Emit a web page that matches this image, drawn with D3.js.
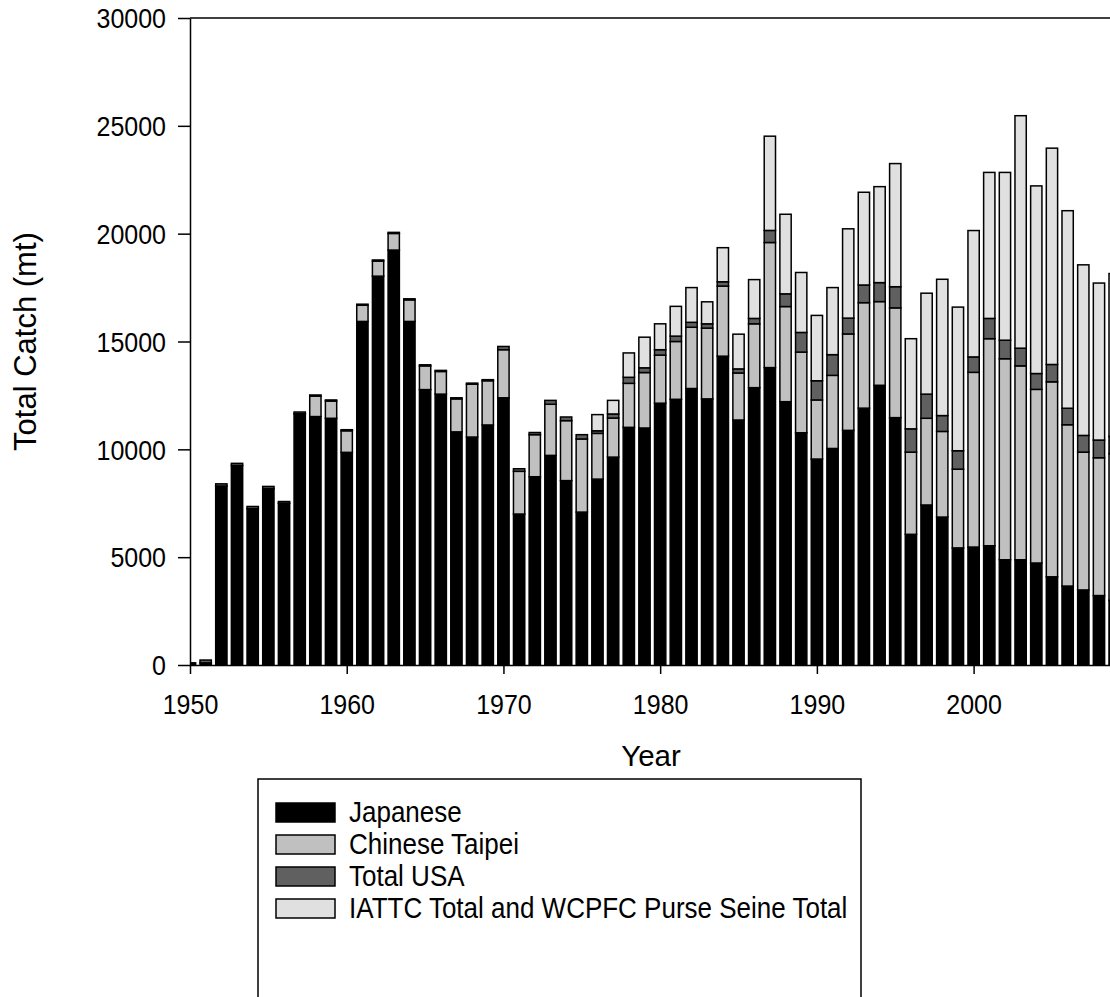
<!DOCTYPE html>
<html>
<head>
<meta charset="utf-8">
<script src="https://cdn.jsdelivr.net/npm/d3@7"></script>
<style>
  html, body { margin: 0; padding: 0; background: #fff; }
  svg { display: block; font-family: "Liberation Sans", Arial, sans-serif; }
</style>
</head>
<body>
<svg id="chart" width="1110" height="997"></svg>
<script>
// Annual catch (mt) by fishery, 1950-2009
const years = d3.range(1950, 2010);

const japanese = [
  100, 100, 8300, 9250, 7250, 8180, 7500, 11650, 11520, 11440,
  9860, 15930, 18030, 19240, 15930, 12770, 12560, 10810, 10570, 11130,
  12390, 7000, 8730, 9720, 8550, 7090, 8620, 9640, 11020, 10990,
  12140, 12320, 12820, 12340, 14320, 11360, 12860, 13790, 12210, 10770,
  9550, 10040, 10880, 11910, 12970, 11470, 6060, 7420, 6860, 5430,
  5470, 5530, 4880, 4880, 4730, 4090, 3660, 3480, 3220, 3000
];

const chineseTaipei = [
  0, 0, 0, 0, 0, 0, 0, 0, 950, 800,
  1000, 750, 700, 770, 1000, 1100, 1050, 1530, 2450, 2050,
  2230, 1980, 1950, 2370, 2780, 3390, 2120, 1810, 2040, 2570,
  2230, 2680, 2840, 3280, 3250, 2180, 2960, 5800, 4410, 3740,
  2740, 3390, 4470, 4890, 3880, 5090, 3810, 4020, 3970, 3650,
  8100, 9600, 9320, 8990, 8050, 9040, 7480, 6390, 6390, 6800
];

const totalUSA = [
  0, 130, 100, 100, 100, 100, 80, 80, 50, 50,
  50, 50, 50, 50, 50, 50, 50, 50, 50, 50,
  150, 120, 100, 180, 170, 200, 120, 190, 280, 220,
  250, 250, 230, 200, 200, 190, 250, 560, 590, 910,
  890, 960, 735, 820, 880, 980, 1080, 1120, 735, 855,
  715, 940, 860, 820, 735, 805, 765, 775, 820, 800
];

const iattcWcpfc = [
  0, 0, 0, 0, 0, 0, 0, 0, 0, 0,
  0, 0, 0, 0, 0, 0, 0, 0, 0, 0,
  0, 0, 0, 0, 0, 0, 750, 630, 1130, 1420,
  1200, 1380, 1610, 1020, 1580, 1610, 1800, 4370, 3690, 2780,
  3030, 3110, 4140, 4300, 4450, 5710, 4180, 4680, 6320, 6660,
  5860, 6770, 7780, 10780, 8700, 10030, 9160, 7910, 7280, 7550
];

const seriesNames = ["Japanese", "Chinese Taipei", "Total USA", "IATTC Total and WCPFC Purse Seine Total"];
const seriesFills = ["#000000", "#c0c0c0", "#606060", "#e0e0e0"];
const yTicks = [0, 5000, 10000, 15000, 20000, 25000, 30000];
const xTicks = [1950, 1960, 1970, 1980, 1990, 2000];

const table = years.map((yr, i) => ({
  year: yr,
  "Japanese": japanese[i],
  "Chinese Taipei": chineseTaipei[i],
  "Total USA": totalUSA[i],
  "IATTC Total and WCPFC Purse Seine Total": iattcWcpfc[i]
}));

const svg = d3.select("#chart");

const plotLeft = 190, plotTop = 18, plotBottom = 665;
const x = d3.scaleLinear().domain([1950, 2010]).range([plotLeft, plotLeft + 60 * 15.672]);
const y = d3.scaleLinear().domain([0, 30000]).range([plotBottom, plotTop]);

const layers = d3.stack().keys(seriesNames)(table);

const barW = 11.3;
const plot = svg.append("g");

plot.selectAll("g.layer")
  .data(layers)
  .join("g")
  .attr("class", "layer")
  .attr("fill", (d, i) => seriesFills[i])
  .selectAll("rect")
  .data(d => d.filter(p => p[1] - p[0] > 0))
  .join("rect")
  .attr("x", d => x(d.data.year) - barW / 2)
  .attr("width", barW)
  .attr("y", d => y(d[1]))
  .attr("height", d => y(d[0]) - y(d[1]))
  .attr("stroke", "#000")
  .attr("stroke-width", 1.5);

// Hide the part of the 1950 bar that falls left of the axis
svg.append("rect")
  .attr("x", 0).attr("y", 0).attr("width", plotLeft).attr("height", plotBottom + 1)
  .attr("fill", "#fff");

// Frame: top line
svg.append("line")
  .attr("x1", plotLeft).attr("x2", x(2010))
  .attr("y1", plotTop).attr("y2", plotTop)
  .attr("stroke", "#000").attr("stroke-width", 1.5);

// Tick labels are drawn slightly tall, like the rest of the chart's lettering
const tallTick = 1.08;

// Y axis
const yAxis = svg.append("g")
  .attr("transform", `translate(${plotLeft},0)`)
  .call(d3.axisLeft(y).tickValues(yTicks).tickSize(12).tickSizeOuter(0).tickFormat(d3.format("d")));
yAxis.select(".domain").attr("stroke-width", 1.5);
yAxis.selectAll(".tick line").attr("stroke-width", 1.5);
yAxis.selectAll(".tick text")
  .attr("x", -24)
  .attr("dy", "0.36em")
  .attr("transform", `scale(1,${tallTick})`)
  .attr("font-size", 25)
  .attr("font-family", "Liberation Sans, Arial, sans-serif")
  .attr("fill", "#000");

// X axis
const xAxis = svg.append("g")
  .attr("transform", `translate(0,${plotBottom})`)
  .call(d3.axisBottom(x).tickValues(xTicks).tickSize(9).tickSizeOuter(0).tickFormat(d3.format("d")));
xAxis.select(".domain").attr("stroke-width", 1.5);
xAxis.selectAll(".tick line").attr("stroke-width", 1.5);
xAxis.selectAll(".tick text")
  .attr("y", 49 / tallTick)
  .attr("dy", 0)
  .attr("transform", `scale(1,${tallTick})`)
  .attr("font-size", 25)
  .attr("font-family", "Liberation Sans, Arial, sans-serif")
  .attr("fill", "#000");

// Axis titles
svg.append("text")
  .attr("x", 651).attr("y", 766)
  .attr("text-anchor", "middle")
  .attr("font-size", 29.5)
  .text("Year");

svg.append("text")
  .attr("transform", `translate(36,${(plotTop + plotBottom) / 2}) rotate(-90)`)
  .attr("text-anchor", "middle")
  .attr("font-size", 31)
  .text("Total Catch (mt)");

// Legend
const legend = svg.append("g");
legend.append("rect")
  .attr("x", 258).attr("y", 779)
  .attr("width", 603).attr("height", 240)
  .attr("fill", "#fff").attr("stroke", "#000").attr("stroke-width", 1.5);

const rows = legend.selectAll("g.row")
  .data(seriesNames)
  .join("g")
  .attr("class", "row")
  .attr("transform", (d, i) => `translate(276,${803 + i * 32})`);
rows.append("rect")
  .attr("width", 59).attr("height", 19)
  .attr("fill", (d, i) => seriesFills[i])
  .attr("stroke", "#000").attr("stroke-width", 1.5);
rows.append("text")
  .attr("transform", "translate(73,19) scale(1,1.12)")
  .attr("font-size", 26)
  .text(d => d);
</script>
</body>
</html>
